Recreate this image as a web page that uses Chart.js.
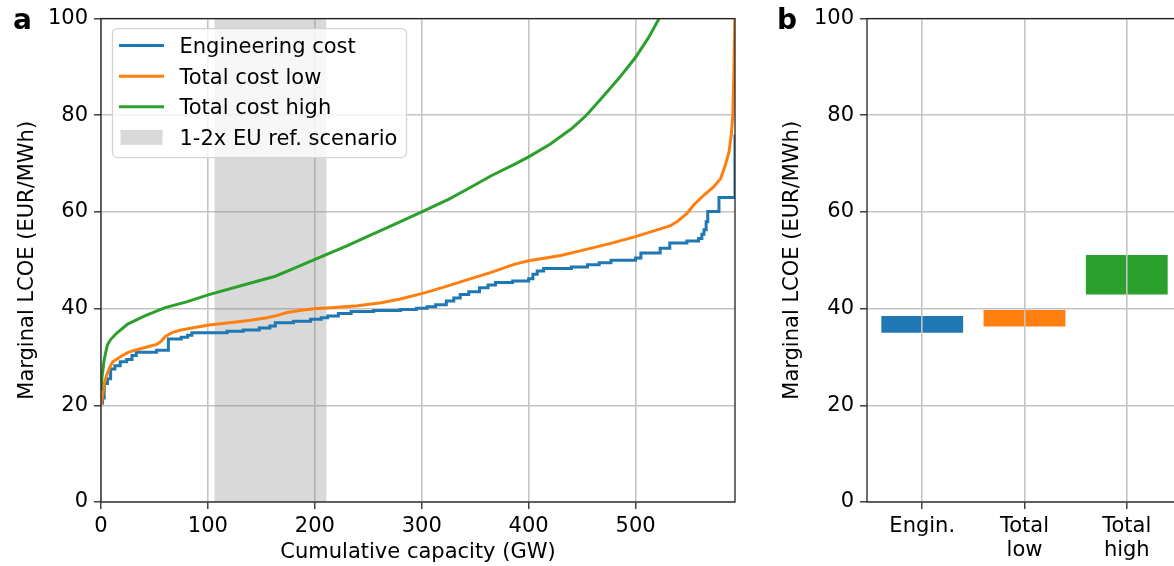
<!DOCTYPE html>
<html>
<head>
<meta charset="utf-8">
<script src="https://cdn.jsdelivr.net/npm/chart.js@4"></script>
<style>
  html, body { margin: 0; padding: 0; background: #fff; overflow: hidden; }
  body { width: 1174px; height: 566px; position: relative; }
  canvas { position: absolute; top: 0; }
  #chartA { left: 0; }
  #chartB { left: 760px; }
  .painel { position: absolute; font-family: 'DejaVu Sans'; font-weight: bold; font-size: 28px; line-height: 28px; color: #000; }
</style>
</head>
<body>
<canvas id="chartA" width="760" height="566"></canvas>
<canvas id="chartB" width="430" height="566"></canvas>
<div class="painel" style="left:13px; top:6px;">a</div>
<div class="painel" style="left:777px; top:6px;">b</div>
<script>
// painel a: curvas de oferta (capacidade acumulada em GW, LCOE marginal em EUR/MWh)
const engCap  = [0, 1.5, 3, 6, 9, 13, 18, 24, 29, 33, 52, 63, 75, 81, 85, 118, 133, 148, 158, 163, 180, 196, 206, 212, 222, 234, 255, 280, 295, 305, 313, 323, 330, 336, 344, 354, 362, 369, 385, 400, 404, 408, 414, 440, 455, 466, 477, 500, 505, 523, 532, 548, 559, 562, 564, 566, 567.5, 578, 593, 593];
const engCost = [20.5, 21.5, 24.5, 25.5, 27.5, 28.2, 29, 29.5, 30.3, 31, 31.4, 33.7, 34.1, 34.5, 35, 35.3, 35.6, 36, 36.4, 37.1, 37.4, 37.8, 38.1, 38.5, 39, 39.4, 39.6, 39.8, 40.1, 40.4, 40.8, 41.6, 42.2, 42.9, 43.5, 44.3, 44.9, 45.4, 45.7, 46.2, 47.1, 47.8, 48.3, 48.6, 49.1, 49.5, 50, 50.5, 51.5, 52.5, 53.6, 54, 54.5, 55.4, 56.3, 58, 60.1, 63, 63, 76];

const lowCap  = [0, 1.5, 3, 5, 8, 11, 15, 20, 26, 32, 42, 52, 56, 60, 66, 73, 85, 101, 120, 140, 155, 165, 174, 186, 199, 215, 240, 262, 280, 300, 320, 343, 365, 387, 400, 430, 449, 475, 500, 523, 532, 539, 548, 554.6, 564, 573, 579.6, 584, 587.4, 589.5, 591, 592, 593];
const lowCost = [20, 22, 24.5, 26, 27.8, 29, 29.6, 30.3, 31, 31.4, 32, 32.6, 33.2, 34.2, 35, 35.5, 36, 36.6, 37.1, 37.6, 38.1, 38.6, 39.2, 39.6, 40, 40.2, 40.6, 41.2, 42, 43.1, 44.4, 46, 47.5, 49.2, 49.9, 51, 52, 53.4, 54.9, 56.5, 57.1, 58, 59.7, 61.5, 63.5, 65.2, 66.9, 69.7, 72.4, 76, 80, 89.6, 102];

const highCap  = [0, 1, 3, 6, 9, 15, 25, 41, 60, 80, 101, 135, 163, 181, 199, 230, 250, 275, 300, 325, 345, 365, 388, 400, 420, 440, 454, 470, 485, 500, 512, 522, 526];
const highCost = [23, 26, 29.5, 32.5, 33.6, 35, 36.8, 38.5, 40.2, 41.4, 42.9, 45, 46.7, 48.4, 50.1, 53, 55, 57.5, 60, 62.6, 65, 67.5, 70, 71.4, 74, 77.2, 80, 84, 87.8, 92, 96, 100, 102];

const bandRange = [106, 211];
const xTicksA = [0, 100, 200, 300, 400, 500];

// painel b: faixa do LCOE marginal no cenário de referência
const barLabels = [['Engin.'], ['Total', 'low'], ['Total', 'high']];
const barLow  = [35.0, 36.3, 42.9];
const barHigh = [38.5, 39.7, 51.1];

const azul = '#1f77b4';
const laranja = '#ff7f0e';
const verde = '#2ca02c';
const cinza = 'rgba(128,128,128,0.3)';

Chart.defaults.font.family = 'DejaVu Sans';
Chart.defaults.font.size = 21;
Chart.defaults.color = '#000';

function pontos(xs, ys) {
  return xs.map((x, i) => ({x: x, y: ys[i]}));
}

const moldura = {
  id: 'moldura',
  afterDraw(chart) {
    const ctx = chart.ctx;
    const a = chart.chartArea;
    ctx.save();
    ctx.strokeStyle = '#222';
    ctx.lineWidth = 1.3;
    ctx.strokeRect(a.left, a.top, a.right - a.left, a.bottom - a.top);
    ctx.restore();
  }
};

// legenda no estilo do matplotlib, desenhada dentro do gráfico
const legenda = {
  id: 'legenda',
  afterDraw(chart) {
    const ctx = chart.ctx;
    const a = chart.chartArea;
    const x0 = a.left + 11.5, y0 = a.top + 10, w = 294, h = 129;
    ctx.save();
    ctx.beginPath();
    ctx.roundRect(x0, y0, w, h, 5);
    ctx.fillStyle = 'rgba(255,255,255,0.8)';
    ctx.fill();
    ctx.strokeStyle = '#d4d4d4';
    ctx.lineWidth = 1.3;
    ctx.stroke();
    ctx.font = '21px "DejaVu Sans"';
    ctx.textBaseline = 'alphabetic';
    chart.data.datasets.forEach(function(ds, i) {
      const cy = a.top + 27 + i * 30.6;
      if (ds.fill) {
        ctx.fillStyle = ds.backgroundColor;
        ctx.fillRect(a.left + 19.5, cy - 7.5, 42, 15);
      } else {
        ctx.strokeStyle = ds.borderColor;
        ctx.lineWidth = ds.borderWidth;
        ctx.beginPath();
        ctx.moveTo(a.left + 18, cy);
        ctx.lineTo(a.left + 63, cy);
        ctx.stroke();
      }
      ctx.fillStyle = '#000';
      ctx.fillText(ds.label, a.left + 78.5, cy + 7.5);
    });
    ctx.restore();
  }
};

const grade = {color: '#c4c4c4', lineWidth: 1.6, tickColor: '#222', tickWidth: 1.3, tickLength: 7};

let configuracaoA = {
  type: 'line',
  data: {
    datasets: [{
      label: 'Engineering cost',
      data: pontos(engCap, engCost),
      borderColor: azul,
      borderWidth: 3,
      stepped: 'before',
      order: 3
    }, {
      label: 'Total cost low',
      data: pontos(lowCap, lowCost),
      borderColor: laranja,
      borderWidth: 3,
      order: 2
    }, {
      label: 'Total cost high',
      data: pontos(highCap, highCost),
      borderColor: verde,
      borderWidth: 3,
      order: 1
    }, {
      label: '1-2x EU ref. scenario',
      data: [{x: bandRange[0], y: 100}, {x: bandRange[1], y: 100}],
      borderWidth: 0,
      borderColor: 'rgba(0,0,0,0)',
      backgroundColor: cinza,
      fill: 'origin',
      order: 4
    }]
  },
  options: {
    responsive: false,
    animation: false,
    events: [],
    devicePixelRatio: 1,
    clip: 0,
    elements: { point: { radius: 0 }, line: { tension: 0 } },
    layout: { padding: { left: 11, top: 16, right: 25, bottom: 0 } },
    plugins: { legend: { display: false }, tooltip: { enabled: false } },
    scales: {
      x: {
        type: 'linear',
        min: 0,
        max: 593,
        afterBuildTicks: function(s) { s.ticks = xTicksA.map(v => ({value: v})); },
        afterFit: function(s) { s.height = 64; },
        grid: grade,
        border: { display: false },
        ticks: { padding: 5, maxRotation: 0 },
        title: { display: true, text: 'Cumulative capacity (GW)', padding: { top: 0, bottom: 1 } }
      },
      y: {
        min: 0,
        max: 100,
        ticks: { stepSize: 20, padding: 6 },
        afterFit: function(s) { s.width = 90; },
        grid: grade,
        border: { display: false },
        title: { display: true, text: 'Marginal LCOE (EUR/MWh)', padding: { top: 4, bottom: 0 } }
      }
    }
  },
  plugins: [moldura, legenda]
};

let chartA = new Chart(document.getElementById('chartA'), configuracaoA);

let configuracaoB = {
  type: 'bar',
  data: {
    datasets: [{
      data: barLow.map((v, i) => ({x: i, y: [v, barHigh[i]]})),
      backgroundColor: [azul, laranja, verde],
      borderWidth: 0,
      barPercentage: 0.8,
      categoryPercentage: 1.0
    }]
  },
  options: {
    responsive: false,
    animation: false,
    events: [],
    devicePixelRatio: 1,
    layout: { padding: { left: 16, top: 16, right: 8, bottom: 0 } },
    plugins: { legend: { display: false }, tooltip: { enabled: false } },
    scales: {
      x: {
        type: 'linear',
        min: -0.54,
        max: 2.54,
        offset: false,
        afterBuildTicks: function(s) { s.ticks = barLabels.map((l, i) => ({value: i})); },
        afterFit: function(s) { s.height = 64; },
        grid: Object.assign({}, grade, { z: 1, offset: false }),
        border: { display: false },
        ticks: {
          padding: 5,
          maxRotation: 0,
          font: { lineHeight: 1.15 },
          callback: function(v) { return barLabels[v]; }
        }
      },
      y: {
        min: 0,
        max: 100,
        ticks: { stepSize: 20, padding: 6 },
        afterFit: function(s) { s.width = 91; },
        grid: Object.assign({}, grade, { z: 1 }),
        border: { display: false },
        title: { display: true, text: 'Marginal LCOE (EUR/MWh)', padding: { top: 4, bottom: 0 } }
      }
    }
  },
  plugins: [moldura]
};

let chartB = new Chart(document.getElementById('chartB'), configuracaoB);
</script>
</body>
</html>
